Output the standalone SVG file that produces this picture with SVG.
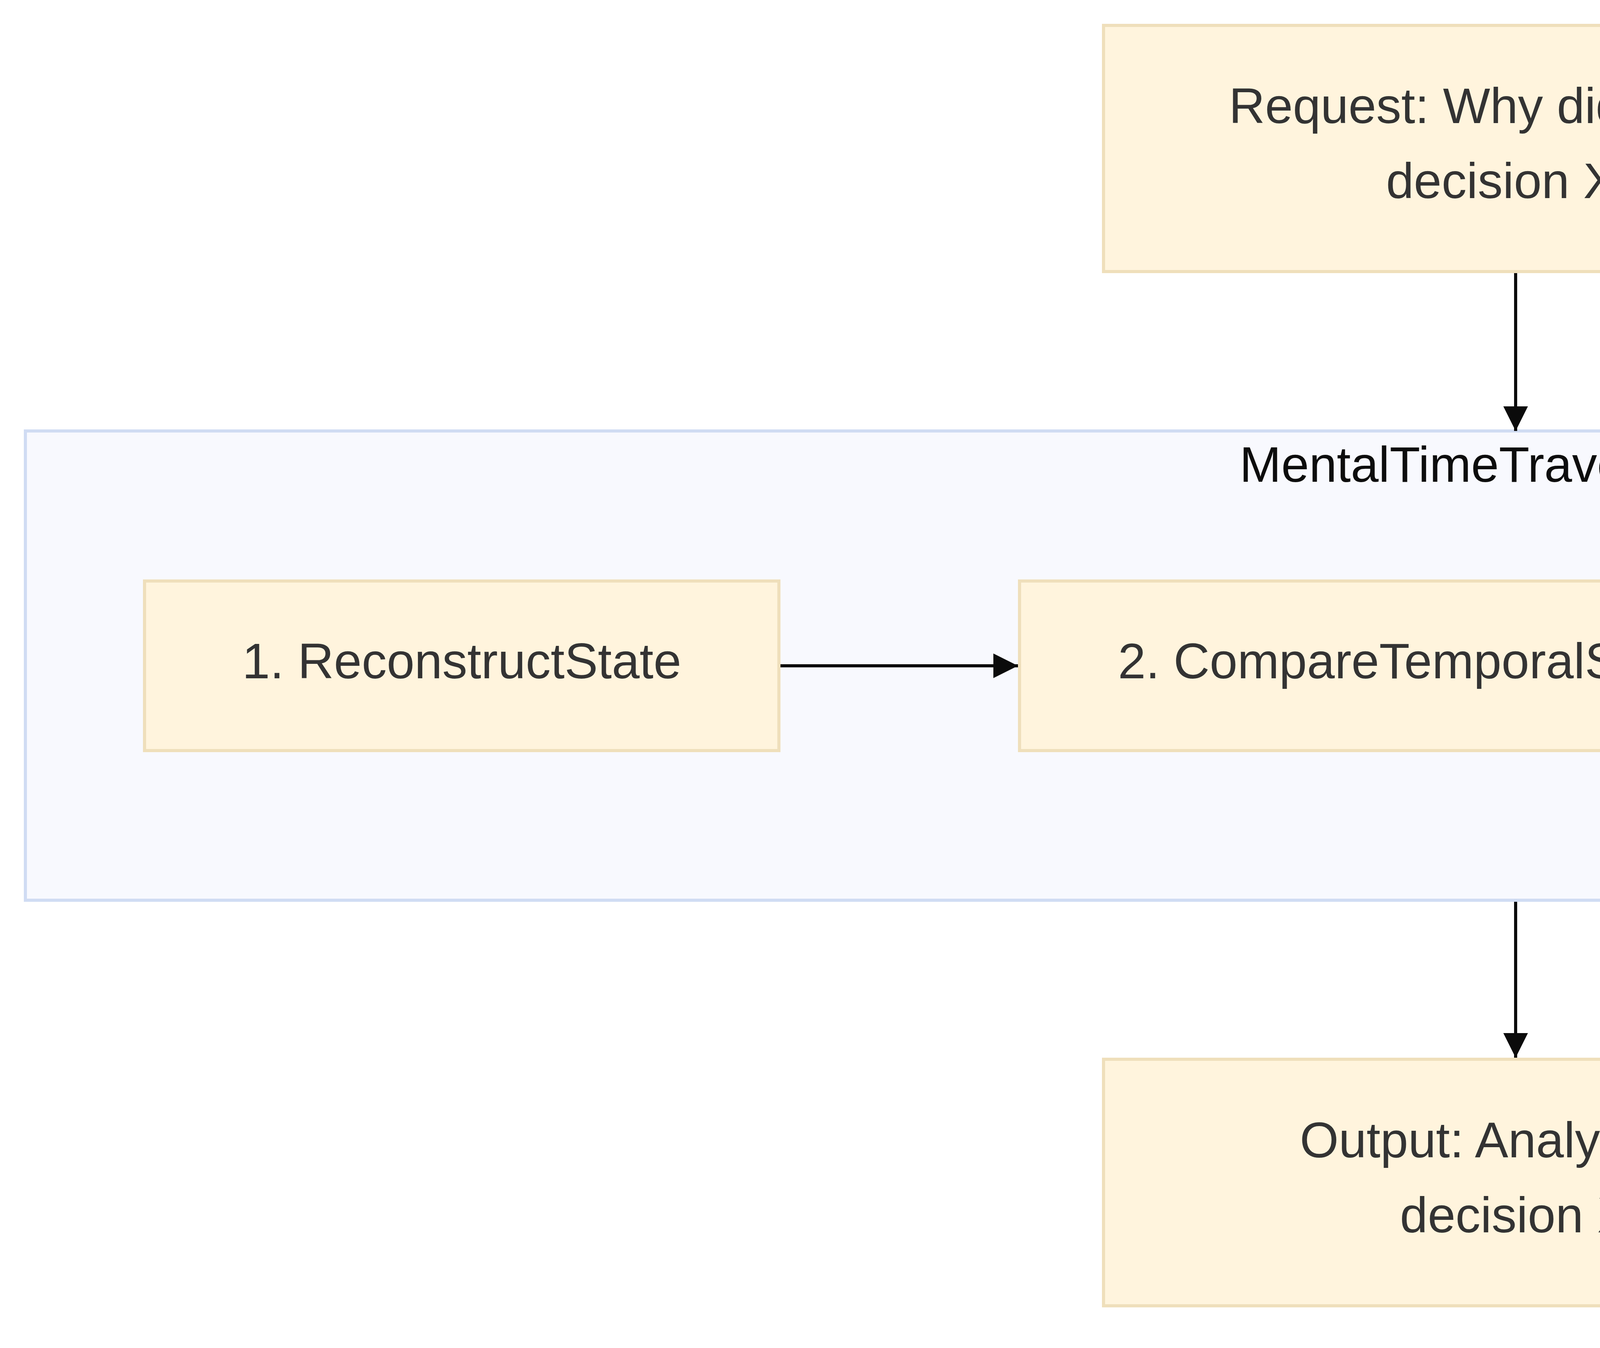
<svg xmlns="http://www.w3.org/2000/svg" width="7840" height="3450" viewBox="0 0 7840 3450">
  <style>
    .node rect { fill: #fff4dd; stroke: #efdfbb; stroke-width: 8; }
    .cluster rect { fill: #f8f9fe; stroke: #d0dcf3; stroke-width: 8; }
    .label { font-family: "Liberation Sans", Arial, sans-serif; font-size: 128px; fill: #333333; text-anchor: middle; }
    .clabel { font-family: "Liberation Sans", Arial, sans-serif; font-size: 128px; fill: #0d0d0d; text-anchor: middle; }
    .edge { fill: none; stroke: #0b0b0b; stroke-width: 8; }
  </style>
  <defs>
    <marker id="arrow" viewBox="0 0 10 10" refX="10" refY="5" markerUnits="userSpaceOnUse" markerWidth="63" markerHeight="64" orient="auto">
      <path d="M0,0 L10,5 L0,10 z" fill="#0b0b0b"/>
    </marker>
  </defs>
  <rect x="0" y="0" width="7840" height="3450" fill="#ffffff"/>

  <g id="cluster-MentalTimeTravelEngine" class="cluster">
    <rect x="65" y="1103" width="7630" height="1201"/>
    <text class="clabel" x="3880" y="1233">MentalTimeTravelEngine</text>
  </g>

  <g id="node-request" class="node">
    <rect x="2825" y="65" width="2108" height="630"/>
    <text class="label" x="3861" y="315">Request: Why did I make</text>
    <text class="label" x="3879" y="507">decision X?</text>
  </g>

  <g id="node-reconstruct" class="node">
    <rect x="370" y="1487" width="1624" height="434"/>
    <text class="label" x="1182" y="1736">1. ReconstructState</text>
  </g>

  <g id="node-compare" class="node">
    <rect x="2610" y="1487" width="2062" height="434"/>
    <text class="label" x="3641" y="1736">2. CompareTemporalStates</text>
  </g>

  <g id="node-generate" class="node">
    <rect x="5281" y="1389" width="2109" height="631"/>
    <text class="label" x="6317" y="1639">3.</text>
    <text class="label" x="6335" y="1831">GenerateTemporalInsights</text>
  </g>

  <g id="node-output" class="node">
    <rect x="2825" y="2711" width="2108" height="631"/>
    <text class="label" x="3861" y="2962">Output: Analysis of</text>
    <text class="label" x="3879" y="3154">decision X</text>
  </g>

  <g id="connectors">
    <path class="edge" d="M3880,699 L3880,1103" marker-end="url(#arrow)"/>
    <path class="edge" d="M1998,1704 L2606,1704" marker-end="url(#arrow)"/>
    <path class="edge" d="M4676,1704 L5277,1704" marker-end="url(#arrow)"/>
    <path class="edge" d="M3880,2308 L3880,2707" marker-end="url(#arrow)"/>
  </g>
</svg>
